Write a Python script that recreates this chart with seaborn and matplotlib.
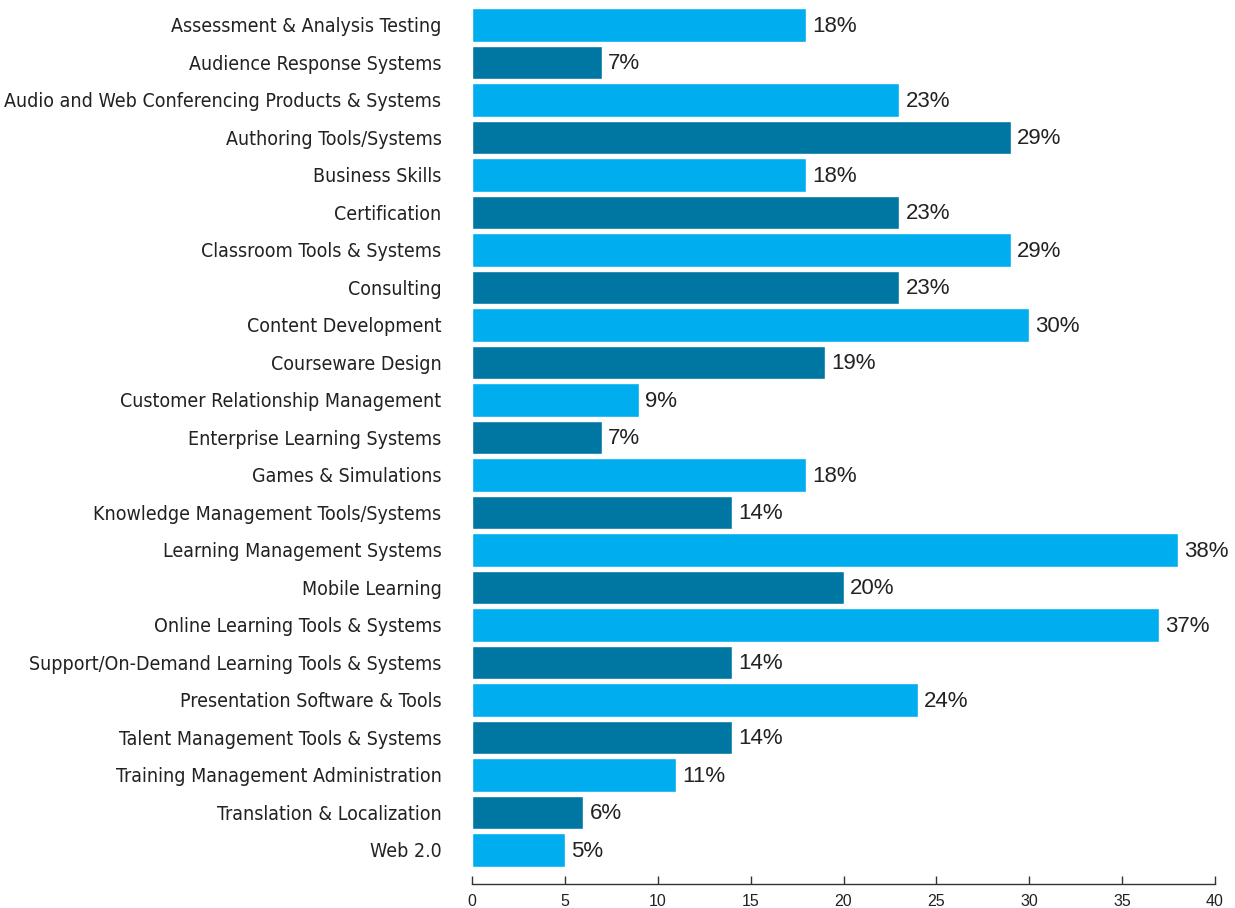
import matplotlib
matplotlib.use("Agg")
import matplotlib.pyplot as plt
import seaborn as sns
import pandas as pd

categories = [
    "Assessment & Analysis Testing",
    "Audience Response Systems",
    "Audio and Web Conferencing Products & Systems",
    "Authoring Tools/Systems",
    "Business Skills",
    "Certification",
    "Classroom Tools & Systems",
    "Consulting",
    "Content Development",
    "Courseware Design",
    "Customer Relationship Management",
    "Enterprise Learning Systems",
    "Games & Simulations",
    "Knowledge Management Tools/Systems",
    "Learning Management Systems",
    "Mobile Learning",
    "Online Learning Tools & Systems",
    "Support/On-Demand Learning Tools & Systems",
    "Presentation Software & Tools",
    "Talent Management Tools & Systems",
    "Training Management Administration",
    "Translation & Localization",
    "Web 2.0",
]
values = [18, 7, 23, 29, 18, 23, 29, 23, 30, 19, 9, 7, 18, 14, 38, 20, 37, 14, 24, 14, 11, 6, 5]
x_ticks = [0, 5, 10, 15, 20, 25, 30, 35, 40]

LIGHT = "#00AEEF"
DARK = "#0077A3"
palette = [LIGHT if i % 2 == 0 else DARK for i in range(len(categories))]

sns.set_theme(style="white")
plt.rcParams["font.family"] = ["Liberation Sans", "DejaVu Sans"]

df = pd.DataFrame({"category": categories, "value": values})

fig = plt.figure(figsize=(12.35, 9.08), dpi=100)
ax = fig.add_axes([472 / 1235, 1 - 884 / 908, (1215 - 472) / 1235, (884 - 8) / 908])

sns.barplot(data=df, x="value", y="category", hue="category", palette=palette,
            orient="h", width=0.9, legend=False, ax=ax, saturation=1)

ax.set_xlim(0, 40)
ax.set_ylim(len(categories) - 1 + 0.907, -0.45)
ax.set_xticks(x_ticks)
ax.set_xticklabels([str(t) for t in x_ticks], fontsize=11.5, color="#222222")
ax.set_xlabel("")
ax.set_ylabel("")

for lbl in ax.get_yticklabels():
    lbl.set_fontfamily("DejaVu Sans")
    lbl.set_fontstretch("condensed")
    lbl.set_fontsize(14)
    lbl.set_color("#222222")
ax.tick_params(axis="y", left=False, length=0, pad=22)
ax.tick_params(axis="x", bottom=True, direction="in", length=6, width=1,
               color="#333333", pad=7)

for s in ["top", "right", "left"]:
    ax.spines[s].set_visible(False)
ax.spines["bottom"].set_color("#333333")
ax.spines["bottom"].set_linewidth(1)

for i, v in enumerate(values):
    ax.annotate(f"{v}%", xy=(v, i), xytext=(4.5, -1), textcoords="offset points",
                va="center", ha="left", fontsize=16, color="#222222")

fig.savefig("out.png", dpi=100)
